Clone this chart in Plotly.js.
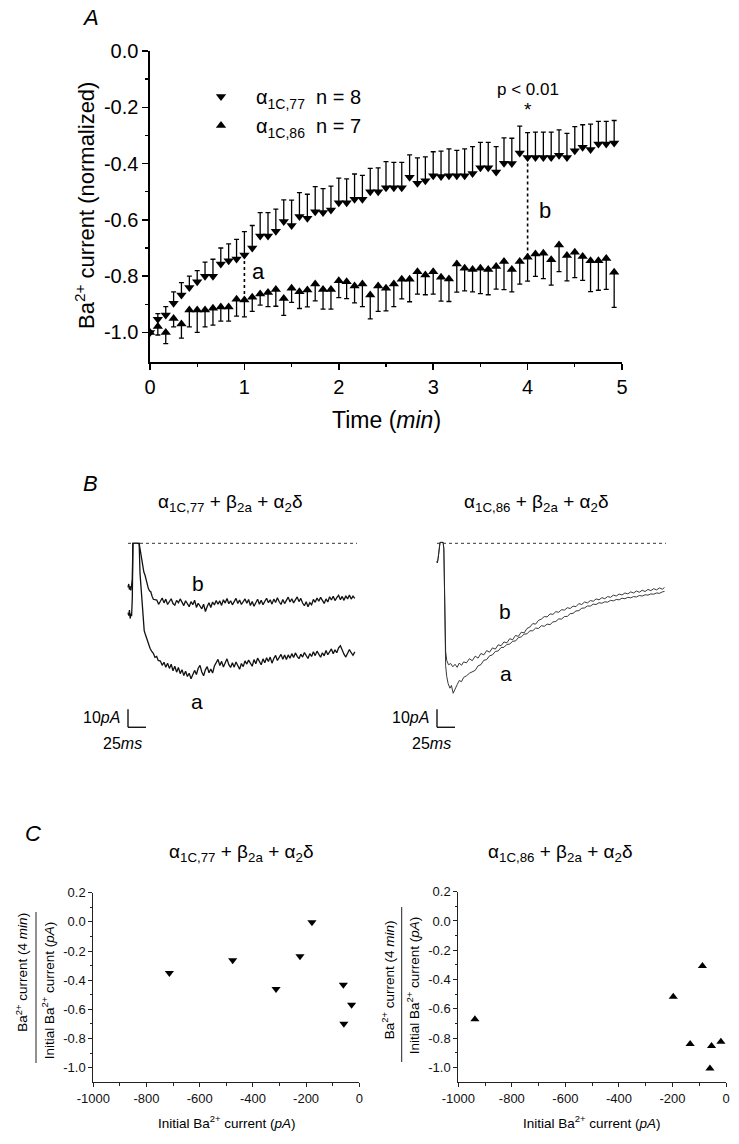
<!DOCTYPE html>
<html><head><meta charset="utf-8">
<script src="https://cdn.plot.ly/plotly-3.0.1.min.js"></script>
<style>html,body{margin:0;padding:0;background:#fff}#g{width:739px;height:1144px}</style>
</head><body><div id="g"></div>
<script>
// ---------- Panel A data ----------
const timeMin = [0,0.083,0.167,0.25,0.333,0.417,0.5,0.583,0.667,0.75,0.833,0.917,1.0,1.083,1.167,1.25,1.333,1.417,1.5,1.583,1.667,1.75,1.833,1.917,2.0,2.083,2.167,2.25,2.333,2.417,2.5,2.583,2.667,2.75,2.833,2.917,3.0,3.083,3.167,3.25,3.333,3.417,3.5,3.583,3.667,3.75,3.833,3.917,4.0,4.083,4.167,4.25,4.333,4.417,4.5,4.583,4.667,4.75,4.833,4.917];
const down77 = [-1.0,-0.953,-0.938,-0.896,-0.867,-0.84,-0.82,-0.80,-0.80,-0.757,-0.745,-0.739,-0.725,-0.70,-0.657,-0.657,-0.64,-0.606,-0.62,-0.588,-0.594,-0.571,-0.574,-0.565,-0.539,-0.539,-0.527,-0.527,-0.50,-0.50,-0.486,-0.486,-0.486,-0.449,-0.47,-0.461,-0.443,-0.446,-0.443,-0.443,-0.443,-0.435,-0.415,-0.415,-0.43,-0.399,-0.40,-0.362,-0.378,-0.378,-0.378,-0.378,-0.37,-0.378,-0.354,-0.342,-0.35,-0.33,-0.33,-0.327];
const err77 = [0,0.02,0.03,0.04,0.044,0.04,0.04,0.05,0.06,0.057,0.06,0.07,0.083,0.08,0.083,0.083,0.078,0.077,0.09,0.085,0.085,0.089,0.085,0.085,0.087,0.085,0.09,0.085,0.083,0.085,0.093,0.09,0.09,0.08,0.09,0.085,0.085,0.09,0.095,0.09,0.095,0.095,0.09,0.09,0.09,0.09,0.09,0.095,0.088,0.09,0.09,0.09,0.09,0.085,0.085,0.08,0.09,0.08,0.08,0.08];
const up86 = [-1.0,-0.979,-1.0,-0.95,-0.97,-0.92,-0.92,-0.92,-0.914,-0.91,-0.91,-0.882,-0.885,-0.875,-0.863,-0.858,-0.847,-0.879,-0.843,-0.855,-0.849,-0.828,-0.847,-0.847,-0.816,-0.82,-0.835,-0.828,-0.867,-0.835,-0.843,-0.828,-0.811,-0.811,-0.784,-0.796,-0.784,-0.804,-0.81,-0.757,-0.772,-0.776,-0.772,-0.776,-0.766,-0.748,-0.776,-0.748,-0.733,-0.721,-0.719,-0.742,-0.689,-0.727,-0.715,-0.73,-0.745,-0.745,-0.737,-0.786];
const err86 = [0,0.03,0.04,0.03,0.05,0.06,0.08,0.06,0.06,0.05,0.05,0.06,0.06,0.05,0.04,0.05,0.06,0.06,0.05,0.06,0.06,0.06,0.07,0.07,0.06,0.06,0.06,0.08,0.085,0.09,0.08,0.08,0.07,0.08,0.08,0.07,0.08,0.085,0.08,0.1,0.08,0.08,0.09,0.09,0.08,0.1,0.08,0.08,0.085,0.08,0.09,0.09,0.095,0.09,0.09,0.085,0.11,0.105,0.11,0.125];
const aXTicks = [0,1,2,3,4,5];
const aXTickText = ['0','1','2','3','4','5'];
const aYTicks = [0,-0.2,-0.4,-0.6,-0.8,-1.0];
const aYTickText = ['0.0','-0.2','-0.4','-0.6','-0.8','-1.0'];
const markIdxA = 12, markIdxB = 48; // points compared (1 min and 4 min)

// ---------- Panel B data (time in ms, current in pA) ----------
const tL_b = [0,1,2,3,4,5,6,6.8,10,15.5,16.5,17.6,19,20.4,22,23.6,25.9,28.2,30,31.5,33.5,35.2,
  40,42.5,45,47.5,50,52.5,55,57.5,60,62.5,65,67.5,70,72.5,75,77.5,80,82.5,85,87.5,90,92.5,95,97.5,100,102.5,105,107.5,110,112.5,
  115,117.5,120,122.5,125,127.5,130,132.5,135,137.5,140,142.5,145,147.5,150,152.5,155,157.5,160,162.5,165,167.5,170,172.5,175,177.5,180,182.5,185,187.5,
  190,192.5,195,197.5,200,202.5,205,207.5,210,212.5,215,217.5,220,222.5,225,227.5,230,232.5,235,237.5,240,242.5,245,247.5,250,252.5,255,257.5,260,262.5,
  265,267.5,270,272.5,275,277.5,280,282.5,285,287.5,290,292.5,295,297.5,300,302.5,305,307.5,310,312.5,315];
const iL_b = [-24.5,-22.6,-25.8,-23.9,-26.2,-24.0,-20,0,0,0,-2.5,-5.6,-9.8,-13.0,-16.0,-17.6,-22.2,-25.0,-26.5,-26.8,-29.5,-31.1,
  -31.5,-33.9,-32.2,-30.4,-33.1,-31.0,-34.0,-32.6,-30.8,-33.5,
  -34.4,-31.7,-33.0,-30.9,-32.8,-34.6,-31.9,-33.7,-35.2,-32.4,
  -34.1,-31.6,-35.6,-33.3,-34.9,-36.4,-33.8,-37.9,-35.1,-33.0,
  -35.7,-32.6,-34.3,-31.8,-33.9,-32.0,-34.5,-31.4,-33.2,-30.7,
  -33.6,-31.9,-34.2,-32.1,-30.6,-33.4,-31.5,-34.0,-32.7,-30.9,
  -33.3,-31.2,-34.6,-32.3,-35.0,-32.8,-31.1,-33.9,-31.6,-34.1,
  -32.0,-30.5,-33.0,-31.4,-33.8,-31.0,-32.9,-30.3,-32.5,-34.0,
  -31.2,-33.5,-31.7,-29.9,-32.6,-30.8,-33.1,-31.3,-29.8,-32.4,
  -30.6,-33.2,-34.7,-32.5,-35.3,-33.0,-34.1,-31.2,-32.8,-30.4,
  -32.2,-30.0,-31.9,-33.4,-30.9,-32.6,-29.7,-31.5,-29.4,-31.8,
  -30.2,-28.9,-31.3,-29.5,-31.7,-29.2,-30.9,-28.8,-31.0,-29.4,-30.6];
const tL_a = [0,1,2,3,4,5,6,6.8,10,15.5,16.7,18,19,20,21.3,22.5,23.6,25.9,28.2,30.6,33,35.2,37.5,39.8,42,
  45,47.5,50,52.5,55,57.5,60,62.5,65,67.5,70,72.5,75,77.5,80,82.5,85,87.5,90,92.5,95,97.5,100,102.5,105,107.5,110,112.5,
  115,117.5,120,122.5,125,127.5,130,132.5,135,137.5,140,142.5,145,147.5,150,152.5,155,157.5,160,162.5,165,167.5,170,172.5,175,177.5,180,182.5,185,187.5,
  190,192.5,195,197.5,200,202.5,205,207.5,210,212.5,215,217.5,220,222.5,225,227.5,230,232.5,235,237.5,240,242.5,245,247.5,250,252.5,255,257.5,260,262.5,
  265,267.5,270,272.5,275,277.5,280,282.5,285,287.5,290,292.5,295,297.5,300,302.5,305,307.5,310,312.5,315];
const iL_a = [-38.5,-40.2,-37.1,-41.8,-39.0,-40.5,-30,0,0,0,-16.7,-25,-31.5,-38,-46.3,-48.5,-50.0,-52.8,-55.6,-58.3,-60.1,-61.1,-63.4,-62.9,-65.1,
  -65.4,-67.8,-66.1,-68.9,-66.6,-69.5,-67.2,-70.8,-68.3,-71.6,
  -69.0,-72.4,-70.2,-73.5,-71.1,-74.0,-72.2,-75.3,-73.0,-70.6,
  -72.9,-69.4,-67.8,-71.5,-73.6,-70.3,-68.5,-71.9,-69.8,-72.1,
  -68.2,-66.0,-64.5,-67.9,-65.6,-68.7,-66.3,-64.2,-67.4,-69.0,
  -66.4,-68.8,-65.9,-67.6,-70.0,-66.8,-68.5,-65.3,-67.1,-64.9,
  -66.7,-68.3,-64.6,-66.9,-63.8,-65.9,-67.5,-64.2,-66.4,-63.6,
  -65.7,-63.2,-66.6,-64.0,-62.3,-65.1,-63.4,-61.7,-64.4,-62.1,
  -64.6,-62.0,-63.9,-61.3,-63.5,-60.9,-62.8,-64.1,-61.6,-63.2,
  -60.7,-62.6,-64.0,-61.3,-62.9,-60.2,-62.4,-59.9,-61.7,-63.3,
  -60.8,-62.5,-59.6,-61.9,-60.3,-58.7,-61.4,-59.2,-60.8,-58.1,
  -56.9,-59.4,-61.6,-63.2,-61.0,-59.0,-60.8,-62.2,-60.3];
const tR_b = [-0.5,0.5,1.5,2.5,3.5,4.2,8.5,9.5,10.5,11.2,12,13.5,16,19,22,25,28,31,34,37,
  41,45,49,53,57,61,65,69,73,77,81,85,89,93,97,101,105,109,113,117,121,125,129,133,137,141,145,149,153,157,161,165,169,173,177,181,185,189,193,197,201,205,209,213,217,221,225,229,233,237,241,245,249,253,257,261,265,269,273,277,281,285,289,293,297,301,305,309,313,316];
const iR_b = [-10.2,-10.8,-8.5,-5.0,-1.5,0.5,0.5,-3,-25,-45,-60,-65,-67.5,-66.8,-68.6,-67.2,-68.9,-66.5,-67.8,-65.9,
  -66.4,-64.1,-65.2,-62.7,-63.8,-61.2,-62.0,-59.6,-60.5,-58.1,-58.8,-56.4,-56.9,-54.8,-55.3,-53.0,-53.6,-51.2,-51.7,-49.4,-49.8,-47.3,-46.5,-44.6,-44.9,-42.8,-42.1,-40.7,-40.9,-39.2,-39.5,-38.0,-38.3,-36.9,-37.1,-35.8,-36.2,-34.9,-35.2,-33.5,-34.0,-32.6,-33.1,-31.8,-32.2,-30.9,-31.4,-30.2,-30.8,-29.6,-30.0,-28.8,-29.3,-28.2,-28.7,-27.6,-28.1,-27.0,-27.6,-26.5,-27.2,-26.1,-26.8,-25.6,-26.3,-25.2,-25.9,-24.8,-25.5,-24.6];
const tR_a = [-0.5,0.5,1.5,2.5,3.5,4.2,8.5,9.5,10.5,11.2,12,13.5,15.5,18,20,22.5,25,28,31,34,37,
  41,45,49,53,57,61,65,69,73,77,81,85,89,93,97,101,105,109,113,117,121,125,129,133,137,141,145,149,153,157,161,165,169,173,177,181,185,189,193,197,201,205,209,213,217,221,225,229,233,237,241,245,249,253,257,261,265,269,273,277,281,285,289,293,297,301,305,309,313,316];
const iR_a = [-10.2,-10.8,-8.5,-5.0,-1.5,0.5,0.5,-3,-28,-50,-68,-74,-78,-80.5,-79,-83.3,-80.6,-78.5,-76.2,-76.9,-74.5,
  -73.6,-72.2,-71.5,-70.6,-68.1,-67.4,-65.0,-64.6,-62.5,-62.0,-60.1,-59.8,-57.9,-57.8,-56.2,-56.0,-54.4,-54.3,-52.4,-52.0,-50.5,-50.3,-48.6,-48.6,-47.1,-47.3,-45.8,-46.1,-44.9,-45.2,-43.7,-43.4,-42.0,-42.1,-40.7,-40.6,-39.1,-38.9,-37.6,-37.4,-36.1,-35.9,-34.8,-34.9,-33.8,-34.0,-33.0,-33.3,-32.5,-32.7,-31.7,-32.0,-31.2,-31.4,-30.5,-30.8,-30.0,-30.3,-29.6,-29.8,-29.0,-29.3,-28.6,-28.8,-28.1,-28.3,-27.6,-27.8,-27.0,-26.7];
const traceEnd = 318;          // ms, end of recorded sweep
const scaleI = 10, scaleT = 25; // scale bars: 10 pA, 25 ms

// ---------- Panel C data ----------
const c77x = [-714,-476,-313,-223,-178,-60,-29,-58];
const c77y = [-0.351,-0.264,-0.461,-0.236,-0.002,-0.431,-0.568,-0.699];
const c86x = [-938,-197,-88,-134,-54,-19,-60];
const c86y = [-0.672,-0.517,-0.308,-0.84,-0.854,-0.825,-1.007];
const cXTicks = [-1000,-800,-600,-400,-200,0];
const cXTickText = ['-1000','-800','-600','-400','-200','0'];
const cYTicks = [0.2,0,-0.2,-0.4,-0.6,-0.8,-1.0];
const cYTickText = ['0.2','0.0','-0.2','-0.4','-0.6','-0.8','-1.0'];

// ---------- helpers ----------
const W = 739, H = 1144;
const px = v => v / W, py = v => 1 - v / H;
const FONT = 'Arial, "Liberation Sans", Helvetica, sans-serif';
const zeros = timeMin.map(() => 0);

const traces = [
  {x: timeMin, y: down77, xaxis:'x', yaxis:'y', type:'scatter', mode:'markers',
   name:'α<sub>1C,77</sub>  n = 8',
   marker:{symbol:'triangle-down', size:9, color:'#000'},
   error_y:{type:'data', symmetric:false, array: err77, arrayminus: zeros, color:'#000', thickness:1.3, width:2.5}},
  {x: timeMin, y: up86, xaxis:'x', yaxis:'y', type:'scatter', mode:'markers',
   name:'α<sub>1C,86</sub>  n = 7',
   marker:{symbol:'triangle-up', size:9, color:'#000'},
   error_y:{type:'data', symmetric:false, array: zeros, arrayminus: err86, color:'#000', thickness:1.3, width:2.5}},
  {x: tL_b, y: iL_b, xaxis:'x2', yaxis:'y2', mode:'lines', line:{color:'#111', width:1.3}, showlegend:false},
  {x: tL_a, y: iL_a, xaxis:'x2', yaxis:'y2', mode:'lines', line:{color:'#111', width:1.3}, showlegend:false},
  {x: tR_b, y: iR_b, xaxis:'x3', yaxis:'y3', mode:'lines', line:{color:'#222', width:0.9}, showlegend:false},
  {x: tR_a, y: iR_a, xaxis:'x3', yaxis:'y3', mode:'lines', line:{color:'#222', width:0.9}, showlegend:false},
  {x: c77x, y: c77y, xaxis:'x4', yaxis:'y4', mode:'markers', marker:{symbol:'triangle-down', size:8, color:'#000'}, showlegend:false},
  {x: c86x, y: c86y, xaxis:'x5', yaxis:'y5', mode:'markers', marker:{symbol:'triangle-up', size:8, color:'#000'}, showlegend:false}
];

const axA = {showline:true, linecolor:'#000', linewidth:1.6, ticks:'outside', ticklen:6, tickwidth:1.5, tickcolor:'#000',
  showgrid:false, zeroline:false, tickfont:{size:20, color:'#000'}};
const axC = {showline:true, linecolor:'#222', linewidth:1, ticks:'outside', ticklen:4, tickwidth:1, tickcolor:'#222',
  showgrid:false, zeroline:false, tickfont:{size:13, color:'#111'}};
const hidden = {visible:false, showgrid:false, zeroline:false};

const layout = {
  width: W, height: H, margin:{l:0,r:0,t:0,b:0},
  paper_bgcolor:'#fff', plot_bgcolor:'rgba(0,0,0,0)',
  font:{family: FONT, color:'#000'},
  showlegend:true,
  legend:{x: px(186), y: py(77), xanchor:'left', yanchor:'top', font:{size:20}, bgcolor:'rgba(0,0,0,0)',
    itemwidth:60, tracegroupgap:0},
  xaxis: Object.assign({}, axA, {domain:[px(150), px(622)], range:[0,5], anchor:'y',
    tickvals:aXTicks, ticktext:aXTickText,
    minor:{tickvals:[0.5,1.5,2.5,3.5,4.5], ticks:'outside', ticklen:3, tickwidth:1.3, tickcolor:'#000', showgrid:false}}),
  yaxis: Object.assign({}, axA, {domain:[py(362), py(51)], range:[-1.105,0], anchor:'x',
    tickvals:aYTicks, ticktext:aYTickText,
    minor:{tickvals:[-0.1,-0.3,-0.5,-0.7,-0.9], ticks:'outside', ticklen:3, tickwidth:1.3, tickcolor:'#000', showgrid:false}}),
  xaxis2: Object.assign({}, hidden, {domain:[px(100), px(380)], range:[(100-128)/0.72, (380-128)/0.72], anchor:'y2'}),
  yaxis2: Object.assign({}, hidden, {domain:[py(760), py(530)], range:[-(760-543.3)/1.8, -(530-543.3)/1.8], anchor:'x2'}),
  xaxis3: Object.assign({}, hidden, {domain:[px(400), px(690)], range:[(400-437)/0.72, (690-437)/0.72], anchor:'y3'}),
  yaxis3: Object.assign({}, hidden, {domain:[py(760), py(530)], range:[-(760-543.3)/1.8, -(530-543.3)/1.8], anchor:'x3'}),
  xaxis4: Object.assign({}, axC, {domain:[px(93.3), px(359.3)], range:[-1000,0], anchor:'y4',
    tickvals:cXTicks, ticktext:cXTickText,
    minor:{tickvals:[-900,-700,-500,-300,-100], ticks:'outside', ticklen:2.5, tickwidth:1, tickcolor:'#222', showgrid:false}}),
  yaxis4: Object.assign({}, axC, {domain:[py(1082.3), py(892.7)], range:[-1.1,0.2], anchor:'x4',
    tickvals:cYTicks, ticktext:cYTickText,
    minor:{tickvals:[0.1,-0.1,-0.3,-0.5,-0.7,-0.9], ticks:'outside', ticklen:2.5, tickwidth:1, tickcolor:'#222', showgrid:false}}),
  xaxis5: Object.assign({}, axC, {domain:[px(458.3), px(726)], range:[-1000,0], anchor:'y5',
    tickvals:cXTicks, ticktext:cXTickText,
    minor:{tickvals:[-900,-700,-500,-300,-100], ticks:'outside', ticklen:2.5, tickwidth:1, tickcolor:'#222', showgrid:false}}),
  yaxis5: Object.assign({}, axC, {domain:[py(1082), py(891.7)], range:[-1.1,0.2], anchor:'x5',
    tickvals:cYTicks, ticktext:cYTickText,
    minor:{tickvals:[0.1,-0.1,-0.3,-0.5,-0.7,-0.9], ticks:'outside', ticklen:2.5, tickwidth:1, tickcolor:'#222', showgrid:false}}),
  shapes: [
    {type:'line', xref:'x', yref:'y', x0:timeMin[markIdxA], x1:timeMin[markIdxA], y0:down77[markIdxA], y1:up86[markIdxA], line:{color:'#000', width:1.6, dash:'dot'}},
    {type:'line', xref:'x', yref:'y', x0:timeMin[markIdxB], x1:timeMin[markIdxB], y0:down77[markIdxB], y1:up86[markIdxB], line:{color:'#000', width:1.6, dash:'dot'}},
    {type:'line', xref:'x2', yref:'y2', x0:0, x1:traceEnd, y0:0, y1:0, line:{color:'#333', width:1, dash:'dot'}},
    {type:'line', xref:'x3', yref:'y3', x0:0, x1:traceEnd, y0:0, y1:0, line:{color:'#333', width:1, dash:'dot'}},
    {type:'line', xref:'x2', yref:'y2', x0:0, x1:0, y0:-92.2, y1:-92.2-scaleI, line:{color:'#000', width:1.3}},
    {type:'line', xref:'x2', yref:'y2', x0:0, x1:scaleT, y0:-92.2-scaleI, y1:-92.2-scaleI, line:{color:'#000', width:1.3}},
    {type:'line', xref:'x3', yref:'y3', x0:0, x1:0, y0:-92.2, y1:-92.2-scaleI, line:{color:'#000', width:1.3}},
    {type:'line', xref:'x3', yref:'y3', x0:0, x1:scaleT, y0:-92.2-scaleI, y1:-92.2-scaleI, line:{color:'#000', width:1.3}},
    {type:'line', xref:'paper', yref:'paper', x0:px(36), x1:px(36), y0:py(912), y1:py(1063), line:{color:'#222', width:1}},
    {type:'line', xref:'paper', yref:'paper', x0:px(401.7), x1:px(401.7), y0:py(907), y1:py(1062), line:{color:'#222', width:1}}
  ],
  annotations: []
};

function ann(text, x, y, size, extra) {
  return Object.assign({text, x: px(x), y: py(y), xref:'paper', yref:'paper', showarrow:false,
    xanchor:'center', yanchor:'middle', font:{size, color:'#000', family: FONT}}, extra || {});
}
function dann(text, x, y, xr, yr, size) {
  return {text, x, y, xref:xr, yref:yr, showarrow:false, xanchor:'center', yanchor:'middle', font:{size, color:'#000', family: FONT}};
}
const title77 = 'α<sub>1C,77</sub> + β<sub>2a</sub> + α<sub>2</sub>δ';
const title86 = 'α<sub>1C,86</sub> + β<sub>2a</sub> + α<sub>2</sub>δ';
const cNum = 'Ba<sup>2+</sup> current (4 <i>min</i>)';
const cDen = 'Initial Ba<sup>2+</sup> current (<i>pA</i>)';

layout.annotations.push(
  ann('<i>A</i>', 90, 18, 22),
  ann('<i>B</i>', 90, 483, 22),
  ann('<i>C</i>', 33, 833, 22),
  ann('Ba<sup>2+</sup> current (normalized)', 85, 206, 22, {textangle:-90}),
  ann('Time (<i>min</i>)', 386, 420, 23),
  dann('a', 1.147, -0.784, 'x', 'y', 22),
  dann('b', 4.18, -0.565, 'x', 'y', 22),
  ann('p &lt; 0.01', 528, 89, 17),
  ann('*', 527.5, 109, 19),
  ann(title77, 230, 503, 19),
  ann(title86, 536, 503, 19),
  dann('b', 97.7, -22.2, 'x2', 'y2', 21),
  dann('a', 95.4, -88, 'x2', 'y2', 21),
  dann('b', 94.4, -38, 'x3', 'y3', 21),
  dann('a', 95.8, -72.6, 'x3', 'y3', 21),
  {text:'10<i>pA</i>', x:-8, y:-97, xref:'x2', yref:'y2', showarrow:false, xanchor:'right', yanchor:'middle', font:{size:16, color:'#000', family:FONT}},
  {text:'25<i>ms</i>', x:-8, y:-111, xref:'x2', yref:'y2', showarrow:false, xanchor:'center', yanchor:'middle', font:{size:16, color:'#000', family:FONT}},
  {text:'10<i>pA</i>', x:-8, y:-97, xref:'x3', yref:'y3', showarrow:false, xanchor:'right', yanchor:'middle', font:{size:16, color:'#000', family:FONT}},
  {text:'25<i>ms</i>', x:-8, y:-111, xref:'x3', yref:'y3', showarrow:false, xanchor:'center', yanchor:'middle', font:{size:16, color:'#000', family:FONT}},
  ann(title77, 241, 853, 19),
  ann(title86, 560, 853, 19),
  ann(cNum, 21.7, 972, 13.5, {textangle:-90}),
  ann(cDen, 48.3, 990, 13.5, {textangle:-90}),
  ann(cNum, 388.3, 980, 13.5, {textangle:-90}),
  ann(cDen, 413.3, 985, 13.5, {textangle:-90}),
  ann(cDen, 227, 1122, 13.5),
  ann(cDen, 592, 1122, 13.5)
);

Plotly.newPlot('g', traces, layout, {staticPlot:true, displayModeBar:false});
</script></body></html>
